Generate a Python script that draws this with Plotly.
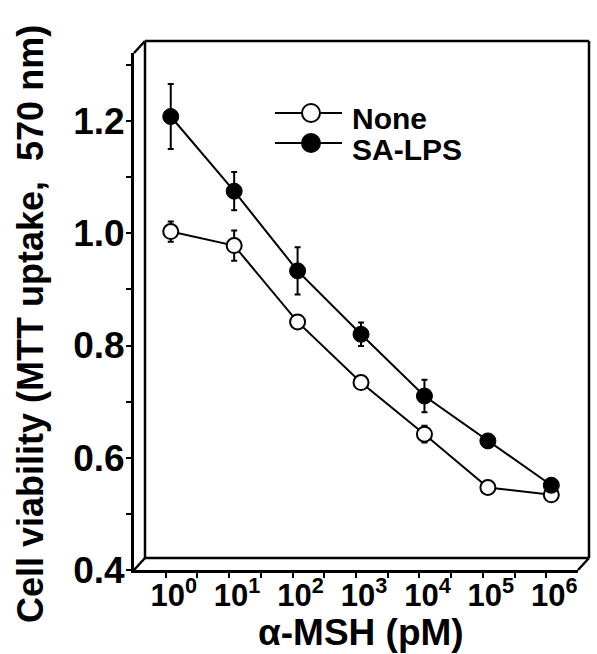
import plotly.graph_objects as go

# ---- data ----
dose_pM = [1.2, 12, 120, 1200, 12000, 120000, 1200000]
none_vals = [1.003, 0.978, 0.842, 0.734, 0.642, 0.547, 0.534]
none_err = [0.018, 0.027, 0.006, 0.006, 0.015, 0.005, 0.005]
lps_vals = [1.208, 1.075, 0.933, 0.820, 0.710, 0.630, 0.551]
lps_err = [0.058, 0.034, 0.042, 0.021, 0.029, 0.010, 0.008]
series_names = ["None", "SA-LPS"]
x_tick_vals = [1, 10, 100, 1000, 10000, 100000, 1000000]
x_tick_text = ["10<sup>0</sup>", "10<sup>1</sup>", "10<sup>2</sup>", "10<sup>3</sup>",
               "10<sup>4</sup>", "10<sup>5</sup>", "10<sup>6</sup>"]
y_tick_vals = [0.4, 0.6, 0.8, 1.0, 1.2]
y_tick_text = ["0.4", "0.6", "0.8", "1.0", "1.2"]
x_title = "α-MSH (pM)"
y_title = "Cell viability (MTT uptake,  570 nm)"

W, H = 597, 654
L, R, T, B = 134, 19, 53, 84
PW, PH = W - L - R, H - T - B
FONT = "Liberation Sans, Arial, sans-serif"

fig = go.Figure()
fig.add_trace(go.Scatter(
    x=dose_pM, y=none_vals, name=series_names[0], mode="lines+markers",
    line=dict(color="black", width=2),
    marker=dict(symbol="circle", size=15, color="white", line=dict(color="black", width=2)),
    error_y=dict(type="data", array=none_err, color="black", thickness=2, width=3),
    showlegend=False))
fig.add_trace(go.Scatter(
    x=dose_pM, y=lps_vals, name=series_names[1], mode="lines+markers",
    line=dict(color="black", width=2),
    marker=dict(symbol="circle", size=16, color="black", line=dict(color="black", width=1)),
    error_y=dict(type="data", array=lps_err, color="black", thickness=2, width=3),
    showlegend=False))

def px(xp):
    return (xp - L) / PW

def py(yp):
    return (H - B - yp) / PH

dx, dy = 11, 12
shapes = []
lw = 2.5
# back panel of the 3D frame
bl, br, bt, bb = L + dx, L + PW + dx, T - dy, H - B - dy
for (x0, y0, x1, y1) in [(bl, bt, br, bt), (bl, bt, bl, bb), (bl, bb, br, bb), (br, bt, br, bb),
                         (L, T, bl, bt), (L, H - B, bl, bb), (L + PW, H - B, br, bb)]:
    shapes.append(dict(type="line", xref="paper", yref="paper",
                       x0=px(x0), y0=py(y0), x1=px(x1), y1=py(y1),
                       line=dict(color="black", width=lw)))

# legend (manual)
leg_x0, leg_x1, leg_mx = 275, 342, 311
leg_rows = [(113, "white"), (143, "black")]
for (ly, fill) in leg_rows:
    shapes.append(dict(type="line", xref="paper", yref="paper",
                       x0=px(leg_x0), x1=px(leg_x1), y0=py(ly), y1=py(ly),
                       line=dict(color="black", width=2)))
    shapes.append(dict(type="circle", xref="paper", yref="paper",
                       xsizemode="pixel", ysizemode="pixel",
                       xanchor=px(leg_mx), yanchor=py(ly),
                       x0=-9, x1=9, y0=-9, y1=9,
                       fillcolor=fill, line=dict(color="black", width=2)))

annotations = []
for (ly, _), name in zip(leg_rows, series_names):
    annotations.append(dict(text=name, xref="paper", yref="paper", x=px(350), y=py(ly + 6),
                            xanchor="left", yanchor="middle", showarrow=False,
                            font=dict(family=FONT, size=30, color="black", weight="bold")))
annotations.append(dict(text=x_title, xref="paper", yref="paper", x=px(361), y=py(632),
                        xanchor="center", yanchor="middle", showarrow=False,
                        font=dict(family=FONT, size=37, color="black", weight="bold")))
annotations.append(dict(text=y_title, xref="paper", yref="paper", x=px(30), y=py(324),
                        xanchor="center", yanchor="middle", showarrow=False, textangle=-90,
                        font=dict(family=FONT, size=36, color="black", weight="bold")))

fig.update_layout(
    width=W, height=H, margin=dict(l=L, r=R, t=T, b=B, pad=0),
    paper_bgcolor="white", plot_bgcolor="white",
    shapes=shapes, annotations=annotations,
    xaxis=dict(type="log", range=[-0.5, 6.5], showgrid=False, zeroline=False,
               showline=True, linecolor="black", linewidth=3,
               ticks="outside", ticklen=5, tickwidth=2, tickcolor="black",
               tickmode="array", tickvals=x_tick_vals, ticktext=x_tick_text,
               ticklabelstandoff=-9, ticklabelshift=8,
               tickfont=dict(family=FONT, size=31, color="black", weight="bold"),
               minor=dict(tickmode="array", tickvals=[10 ** (k + 0.5) for k in range(6)],
                          ticks="outside", ticklen=5, tickwidth=2, tickcolor="black"),
               ),
    yaxis=dict(range=[0.4, 0.4 + 517 / 561.25], showgrid=False, zeroline=False,
               showline=True, linecolor="black", linewidth=3,
               ticks="outside", ticklen=5, tickwidth=2, tickcolor="black",
               tickmode="array", tickvals=y_tick_vals, ticktext=y_tick_text,
               ticklabelstandoff=-6,
               tickfont=dict(family=FONT, size=37, color="black", weight="bold"),
               minor=dict(tickmode="array", tickvals=[0.5, 0.7, 0.9, 1.1, 1.3],
                          ticks="outside", ticklen=5, tickwidth=2, tickcolor="black"),
               ),
)

fig.write_html("out.html")
